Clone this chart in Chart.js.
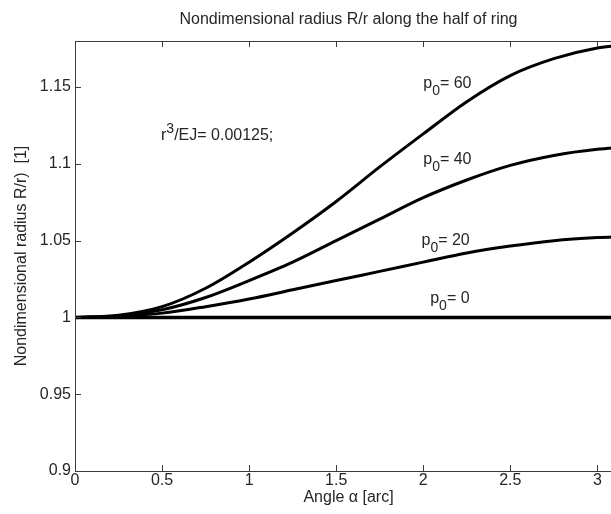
<!DOCTYPE html>
<html>
<head>
<meta charset="utf-8">
<script src="https://cdn.jsdelivr.net/npm/chart.js@4.4.1/dist/chart.umd.min.js"></script>
<style>
  html, body { margin: 0; padding: 0; background: #fff; overflow: hidden; }
  /* the plot runs a bit past the right edge of the window, like the original */
  #wrap { width: 640px; height: 514px; }
</style>
</head>
<body>
<div id="wrap"><canvas id="ring-chart" width="640" height="514"></canvas></div>
<script>
var angles = [0, 0.25, 0.5, 0.75, 1.0, 1.25, 1.5, 1.75, 2.0, 2.25, 2.5, 2.75, 3.0, 3.1416];

// nondimensional radius R/r for each load p0
var radius_p60 = [1.000, 1.0015, 1.007, 1.019, 1.036, 1.055, 1.0755, 1.098, 1.1195, 1.1405, 1.1575, 1.1685, 1.1755, 1.1772];
var radius_p40 = [1.000, 1.001, 1.005, 1.013, 1.024, 1.036, 1.050, 1.064, 1.078, 1.0895, 1.099, 1.1055, 1.1095, 1.1107];
var radius_p20 = [1.000, 1.0007, 1.0028, 1.007, 1.012, 1.018, 1.024, 1.030, 1.036, 1.0420, 1.0465, 1.0500, 1.0520, 1.0526];
var radius_p0  = [1, 1, 1, 1, 1, 1, 1, 1, 1, 1, 1, 1, 1, 1];

// curve labels (p0 value) and where they sit, in data units
var label_loads = ['60', '40', '20', '0'];
var label_alpha = [2.0, 2.0, 1.99, 2.04];
var label_level = [1.152, 1.1025, 1.0498, 1.012];

var x_ticks_step = 0.5;
var y_ticks_step = 0.05;

var font_family = '"Liberation Sans", Arial, Helvetica, sans-serif';
var text_color = '#262626';
var axis_color = '#3c3c3c';

function toPoints(ys) {
  return angles.map(function (a, i) { return { x: a, y: ys[i] }; });
}

function curve(ys, width) {
  return {
    data: toPoints(ys),
    borderColor: '#000',
    borderWidth: width,
    pointRadius: 0,
    fill: false,
    cubicInterpolationMode: 'monotone'
  };
}

// matlab style box with ticks pointing inwards
var matlabAxes = {
  id: 'matlabAxes',
  afterDraw: function (chart) {
    var ctx = chart.ctx;
    var area = chart.chartArea;
    var xs = chart.scales.x, ys = chart.scales.y;
    ctx.save();
    ctx.strokeStyle = axis_color;
    ctx.lineWidth = 1;
    ctx.beginPath();
    ctx.rect(Math.round(area.left) + 0.5, Math.round(area.top) + 0.5,
             Math.round(area.right - area.left), Math.round(area.bottom - area.top));
    xs.ticks.forEach(function (t) {
      var px = Math.round(xs.getPixelForValue(t.value)) + 0.5;
      ctx.moveTo(px, area.bottom);
      ctx.lineTo(px, area.bottom - 6);
      ctx.moveTo(px, area.top);
      ctx.lineTo(px, area.top + 6);
    });
    ys.ticks.forEach(function (t) {
      var py = Math.round(ys.getPixelForValue(t.value)) + 0.5;
      ctx.moveTo(area.left, py);
      ctx.lineTo(area.left + 6, py);
    });
    ctx.stroke();
    ctx.restore();
  }
};

// text inside the plot: p0 labels and the r^3/EJ note
var plotNotes = {
  id: 'plotNotes',
  afterDatasetsDraw: function (chart) {
    var ctx = chart.ctx;
    var xs = chart.scales.x, ys = chart.scales.y;
    var big = '16px ' + font_family;
    var small = '14px ' + font_family;
    ctx.save();
    ctx.fillStyle = text_color;
    ctx.textBaseline = 'middle';
    ctx.textAlign = 'left';
    for (var i = 0; i < label_loads.length; i++) {
      var px = xs.getPixelForValue(label_alpha[i]);
      var py = ys.getPixelForValue(label_level[i]);
      ctx.font = big;
      ctx.fillText('p', px, py);
      px += ctx.measureText('p').width;
      ctx.font = small;
      ctx.fillText('0', px, py + 7);
      px += ctx.measureText('0').width;
      ctx.font = big;
      ctx.fillText('= ' + label_loads[i], px, py);
    }
    // r^3/EJ note
    var nx = xs.getPixelForValue(0.494);
    var ny = ys.getPixelForValue(1.1185);
    ctx.font = big;
    ctx.fillText('r', nx, ny);
    nx += ctx.measureText('r').width;
    ctx.font = small;
    ctx.fillText('3', nx, ny - 6);
    nx += ctx.measureText('3').width;
    ctx.font = big;
    ctx.fillText('/EJ= 0.00125;', nx, ny);
    ctx.restore();
  }
};

function tickLabel(v) {
  return String(parseFloat(v.toFixed(2)));
}

var ctx = document.getElementById('ring-chart');
var ring_chart = new Chart(ctx, {
  type: 'line',
  data: {
    datasets: [
      curve(radius_p60, 3),
      curve(radius_p40, 3),
      curve(radius_p20, 3),
      curve(radius_p0, 3.5)
    ]
  },
  options: {
    responsive: false,
    animation: false,
    events: [],
    layout: { padding: { left: 0, right: 18, top: 0, bottom: 0 } },
    plugins: {
      legend: { display: false },
      tooltip: { enabled: false },
      title: {
        display: true,
        fullSize: false,
        text: 'Nondimensional radius R/r along the half of ring',
        color: text_color,
        font: { family: font_family, size: 16, weight: 'normal' },
        padding: { top: 10, bottom: 11.8 }
      }
    },
    scales: {
      x: {
        type: 'linear',
        min: 0,
        max: Math.PI,
        grid: { display: false, drawTicks: false },
        border: { display: false },
        ticks: {
          stepSize: x_ticks_step,
          includeBounds: false,
          maxRotation: 0,
          padding: 0,
          color: text_color,
          font: { family: font_family, size: 16 },
          callback: tickLabel
        },
        title: {
          display: true,
          text: 'Angle α [arc]',
          color: text_color,
          font: { family: font_family, size: 16 },
          padding: { top: 0, bottom: 7 }
        },
        afterFit: function (scale) { scale.height = 43; }
      },
      y: {
        min: 0.9,
        max: 1.18,
        grid: { display: false, drawTicks: false },
        border: { display: false },
        ticks: {
          stepSize: y_ticks_step,
          includeBounds: false,
          padding: 4,
          color: text_color,
          font: { family: font_family, size: 16 },
          callback: tickLabel
        },
        title: {
          display: true,
          text: 'Nondimensional radius R/r)  [1]',
          color: text_color,
          font: { family: font_family, size: 16 },
          padding: { top: 11.5, bottom: 0 }
        },
        afterFit: function (scale) { scale.width = 75; }
      }
    }
  },
  plugins: [matlabAxes, plotNotes]
});
</script>
</body>
</html>
